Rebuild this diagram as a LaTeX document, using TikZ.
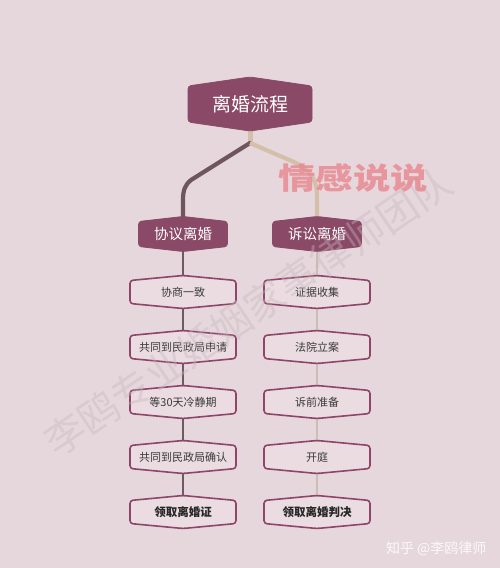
\documentclass[tikz,border=0pt]{standalone}
\usepackage{fontspec}
\setmainfont{Noto Sans CJK SC}
\usetikzlibrary{calc}
\pgfdeclarelayer{bg}\pgfdeclarelayer{conn}\pgfdeclarelayer{frame}
\pgfsetlayers{bg,conn,frame,main}
\definecolor{bgc}{HTML}{E6D7DC}
\definecolor{dark}{HTML}{8A4966}
\definecolor{rim}{HTML}{8E4568}
\definecolor{boxfill}{HTML}{EADCE1}
\definecolor{brownline}{HTML}{6E555E}
\definecolor{beige}{HTML}{D4C0AA}
\definecolor{leftthin}{HTML}{6E5A62}
\definecolor{rightthin}{HTML}{CDBDB5}
\definecolor{wmred}{HTML}{E8868E}
\definecolor{wmgray}{HTML}{C6B7BD}
\definecolor{txt}{HTML}{3A3A3A}
\tikzset{
  boxnode/.style={inner sep=0pt,outer sep=0pt,draw=none,align=center},
  topnode/.style={boxnode,minimum width=124pt,minimum height=36pt,text=white,font=\fontsize{19}{22}\selectfont},
  midnode/.style={boxnode,minimum width=89pt,minimum height=25pt,text=white,font=\fontsize{14.5}{17}\selectfont},
  smallnode/.style={boxnode,minimum width=106pt,minimum height=23pt,text=txt,font=\fontsize{11}{13}\selectfont},
  endnode/.style={smallnode,text=black!85,font=\bfseries\fontsize{11.5}{13}\selectfont},
  darkframe/.style={fill=dark,draw=dark,line width=0.8pt,rounded corners=3pt},
  lightframe/.style={fill=boxfill,draw=rim,line width=1.6pt,rounded corners=3pt},
  thickbrown/.style={draw=brownline,line width=4.2pt},
  thickbeige/.style={draw=beige,line width=4.2pt},
  thinleft/.style={draw=leftthin,line width=1.5pt},
  thinright/.style={draw=rightthin,line width=1.5pt},
}
\newcommand{\hexframe}[3]{%
  \begin{pgfonlayer}{frame}
  \path[#3] (#1.north west) -- ([yshift=#2]#1.north) -- (#1.north east) -- (#1.south east) -- ([yshift=-#2]#1.south) -- (#1.south west) -- cycle;
  \end{pgfonlayer}}
\begin{document}
\begin{tikzpicture}[x=1pt,y=-1pt]
\begin{pgfonlayer}{bg}
\fill[bgc] (0,0) rectangle (500,568);
\end{pgfonlayer}
\useasboundingbox (0,0) rectangle (500,568);

% nodes
\node[topnode] (top) at (250,104) {离婚流程};
\node[midnode] (L) at (183,234) {协议离婚};
\node[midnode] (R) at (317,234) {诉讼离婚};

\node[smallnode] (l1) at (183,292) {协商一致};
\node[smallnode] (l2) at (183,347) {共同到民政局申请};
\node[smallnode] (l3) at (183,402) {等30天冷静期};
\node[smallnode] (l4) at (183,457) {共同到民政局确认};
\node[endnode]   (l5) at (183,512) {领取离婚证};

\node[smallnode] (r1) at (317,292) {证据收集};
\node[smallnode] (r2) at (317,347) {法院立案};
\node[smallnode] (r3) at (317,402) {诉前准备};
\node[smallnode] (r4) at (317,457) {开庭};
\node[endnode]   (r5) at (317,512) {领取离婚判决};

% frames
\hexframe{top}{9pt}{darkframe}
\hexframe{L}{5pt}{darkframe}
\hexframe{R}{5pt}{darkframe}
\foreach \n in {l1,l2,l3,l4,l5,r1,r2,r3,r4,r5}{\hexframe{\n}{5pt}{lightframe}}

% connectors
\coordinate (j) at (250,143);
\coordinate (la) at (191,180);
\coordinate (lb) at (183,200);
\coordinate (ra) at (294,162);
\coordinate (rb) at (317,195);
\begin{pgfonlayer}{conn}
\draw[thickbeige,line width=5pt] (top.south) -- (j);
\draw[thickbrown,line cap=round] (j) -- (la) .. controls (185,185) and (183,190) .. (lb) -- (L.north);
\draw[thickbeige] (j) -- (ra) .. controls (310,170) and (317,180) .. (rb) -- (R.north);
\draw[thinleft] (L.south) -- (l1.north);
\draw[thinleft] (l1.south) -- (l2.north);
\draw[thinleft] (l2.south) -- (l3.north);
\draw[thinleft] (l3.south) -- (l4.north);
\draw[thinleft] (l4.south) -- (l5.north);
\draw[thinright] (R.south) -- (r1.north);
\draw[thinright] (r1.south) -- (r2.north);
\draw[thinright] (r2.south) -- (r3.north);
\draw[thinright] (r3.south) -- (r4.north);
\draw[thinright] (r4.south) -- (r5.north);
\end{pgfonlayer}

% watermarks
\node[text=wmgray,opacity=0.4,rotate=34,font=\fontsize{40}{40}\selectfont] (wm2) at (248,312) {李鸥专业婚姻家事律师团队};
\node[text=wmred,opacity=0.8,xscale=1.25,font=\bfseries\fontsize{30}{30}\selectfont] (wm1) at (353,178) {情感说说};
\node[text=white,opacity=0.85,anchor=east,font=\fontsize{14}{14}\selectfont] (zh) at (490,549) {知乎 @李鸥律师};
\end{tikzpicture}
\end{document}
